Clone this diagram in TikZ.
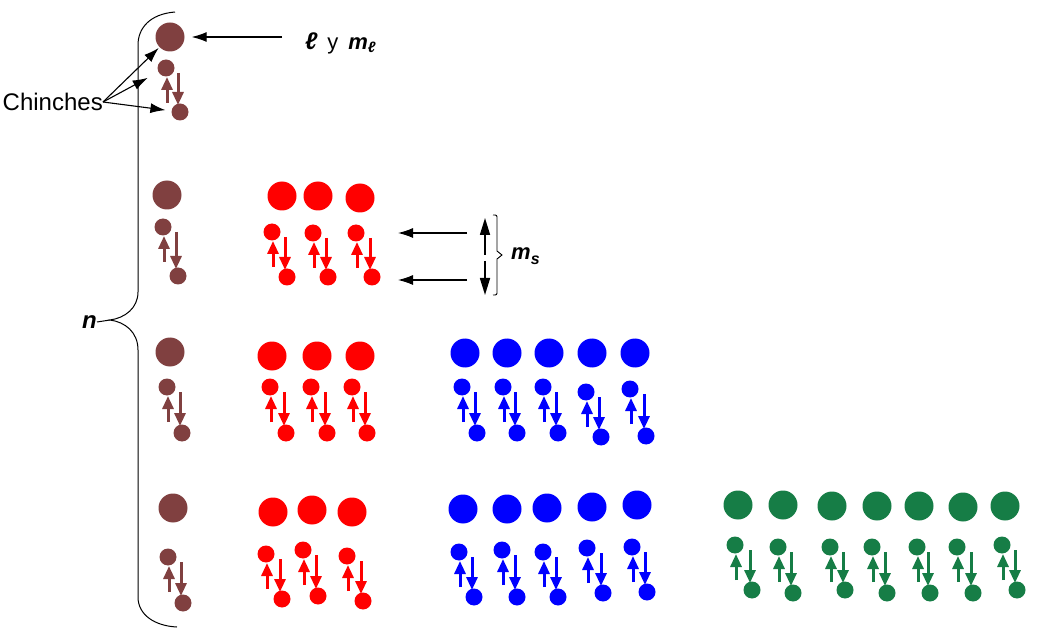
\documentclass[tikz,border=0pt]{standalone}
\usepackage{fontspec}
\setmainfont{Liberation Sans}
\usetikzlibrary{arrows.meta}
\definecolor{brownb}{RGB}{128,64,64}
\definecolor{redb}{RGB}{255,0,0}
\definecolor{blueb}{RGB}{0,0,255}
\definecolor{greenb}{RGB}{22,125,70}
\tikzset{
 bigball/.style={circle,inner sep=0pt,minimum size=29pt,draw=none},
 sball/.style={circle,inner sep=0pt,minimum size=17pt,draw=none},
 spin/.style={line width=3pt,-{Triangle[length=13pt,width=11pt]}},
 arr/.style={line width=1.1pt,-{Latex[length=15pt,width=10pt]}},
 arrv/.style={line width=1.6pt,-{Triangle[length=17pt,width=10pt]}},
 bracel/.style={line width=1pt,black},
 lbl/.style={inner sep=0pt,font=\fontsize{22}{26}\selectfont},
}
\newcommand\bigb[4]{\node[bigball,fill=#2] (#1) at (#3,#4) {};}
\newcommand\orbp[6]{%
 \node[sball,fill=#2] (#1u) at (#3,#4) {};
 \node[sball,fill=#2] (#1d) at (#5,#6) {};
 \draw[spin,#2] (#3+1,#4+35) -- (#3+1,#4+9);
 \draw[spin,#2] (#5-2,#4+5) -- (#5-2,#6-7);
}
\begin{document}
\begin{tikzpicture}[x=1pt,y=-1pt]
\useasboundingbox (0,0) rectangle (1037,639);
% row 1
\bigb{b1}{brownb}{170}{37}
\orbp{o1}{brownb}{166}{68}{180}{112}
% row 2
\bigb{b2}{brownb}{167}{195}
\orbp{o2}{brownb}{163}{227}{178}{276}
\bigb{r2a}{redb}{282}{196}
\bigb{r2b}{redb}{318}{196}
\bigb{r2c}{redb}{360}{198}
\orbp{p2a}{redb}{272}{232}{287}{277}
\orbp{p2b}{redb}{313}{233}{328}{277}
\orbp{p2c}{redb}{356}{233}{372}{277}
% row 3
\bigb{b3}{brownb}{170}{352}
\orbp{o3}{brownb}{167}{387}{182}{433}
\bigb{r3a}{redb}{272}{356}
\bigb{r3b}{redb}{317}{356}
\bigb{r3c}{redb}{360}{356}
\orbp{p3a}{redb}{270}{387}{286}{433}
\orbp{p3b}{redb}{311}{387}{327}{433}
\orbp{p3c}{redb}{352}{387}{367}{433}
\bigb{d3a}{blueb}{465}{353}
\bigb{d3b}{blueb}{507}{353}
\bigb{d3c}{blueb}{549}{353}
\bigb{d3d}{blueb}{592}{353}
\bigb{d3e}{blueb}{635}{353}
\orbp{q3a}{blueb}{462}{387}{477}{433}
\orbp{q3b}{blueb}{503}{387}{517}{433}
\orbp{q3c}{blueb}{543}{387}{558}{433}
\orbp{q3d}{blueb}{586}{392}{601}{437}
\orbp{q3e}{blueb}{630}{389}{646}{436}
% row 4
\bigb{b4}{brownb}{173}{508}
\orbp{o4}{brownb}{168}{557}{183}{603}
\bigb{r4a}{redb}{273}{512}
\bigb{r4b}{redb}{312}{510}
\bigb{r4c}{redb}{352}{512}
\orbp{p4a}{redb}{266}{554}{282}{599}
\orbp{p4b}{redb}{303}{550}{318}{596}
\orbp{p4c}{redb}{347}{556}{363}{601}
\bigb{d4a}{blueb}{463}{509}
\bigb{d4b}{blueb}{507}{509}
\bigb{d4c}{blueb}{547}{508}
\bigb{d4d}{blueb}{592}{507}
\bigb{d4e}{blueb}{637}{505}
\orbp{q4a}{blueb}{459}{552}{474}{597}
\orbp{q4b}{blueb}{502}{550}{517}{597}
\orbp{q4c}{blueb}{543}{552}{558}{597}
\orbp{q4d}{blueb}{587}{548}{603}{593}
\orbp{q4e}{blueb}{632}{547}{647}{592}
\bigb{f4a}{greenb}{738}{505}
\bigb{f4b}{greenb}{783}{505}
\bigb{f4c}{greenb}{832}{506}
\bigb{f4d}{greenb}{877}{506}
\bigb{f4e}{greenb}{919}{506}
\bigb{f4f}{greenb}{963}{507}
\bigb{f4g}{greenb}{1005}{506}
\orbp{g4a}{greenb}{735}{545}{752}{590}
\orbp{g4b}{greenb}{778}{547}{793}{593}
\orbp{g4c}{greenb}{830}{547}{845}{590}
\orbp{g4d}{greenb}{872}{547}{887}{593}
\orbp{g4e}{greenb}{917}{547}{930}{593}
\orbp{g4f}{greenb}{957}{547}{973}{593}
\orbp{g4g}{greenb}{1002}{545}{1017}{590}
% big brace for n
\draw[bracel] (175,12) .. controls (150,14) and (138,28) .. (138,45) -- (138,292)
  .. controls (138,308) and (125,318) .. (110,320) coordinate (ntip)
  .. controls (125,322) and (138,332) .. (138,350) -- (138,597)
  .. controls (138,615) and (155,626) .. (177,627);
\node[lbl,anchor=east,font=\fontsize{24}{28}\selectfont\bfseries\itshape] (n) at (97,322) {n};
\draw[bracel] (n.east) -- (ntip);
% Chinches
\node[lbl,anchor=east,font=\fontsize{24}{28}\selectfont] (chin) at (103,102) {Chinches};
\draw[arr,shorten >=1pt] (chin.east) -- (b1);
\draw[arr,shorten >=12pt] (chin.east) -- (o1u);
\draw[arr,shorten >=6pt] (chin.east) -- (o1d);
% l y ml
\node[lbl,anchor=west] (lml) at (305,43) {\textbf{\textit{\fontsize{24}{26}\selectfont ℓ}}\, y\, \textbf{\textit{m}}\raisebox{-3pt}{\fontsize{15}{15}\selectfont\bfseries\itshape ℓ}};
\draw[arr,shorten <=23pt,shorten >=7pt] ([yshift=6pt]lml.west) -- (b1.east);
% m_s
\coordinate (msa1) at (467,233);
\coordinate (msb1) at (398,233);
\coordinate (msa2) at (467,280);
\coordinate (msb2) at (398,280);
\draw[arr] (msa1) -- (msb1);
\draw[arr] (msa2) -- (msb2);
\coordinate (up0) at (485,255);
\coordinate (up1) at (485,218);
\coordinate (dn0) at (485,261);
\coordinate (dn1) at (485,295);
\draw[arrv] (up0) -- (up1);
\draw[arrv] (dn0) -- (dn1);
\draw[line width=0.9pt] (493,215) .. controls (497,215) .. (497,219) -- (497,251) -- (502,255) coordinate (mstip) -- (497,259) -- (497,291) .. controls (497,295) .. (493,295);
\node[lbl,anchor=west] (ms) at (511,256) {\bfseries\itshape m\raisebox{-5pt}{\fontsize{16}{16}\selectfont s}};
\end{tikzpicture}
\end{document}
